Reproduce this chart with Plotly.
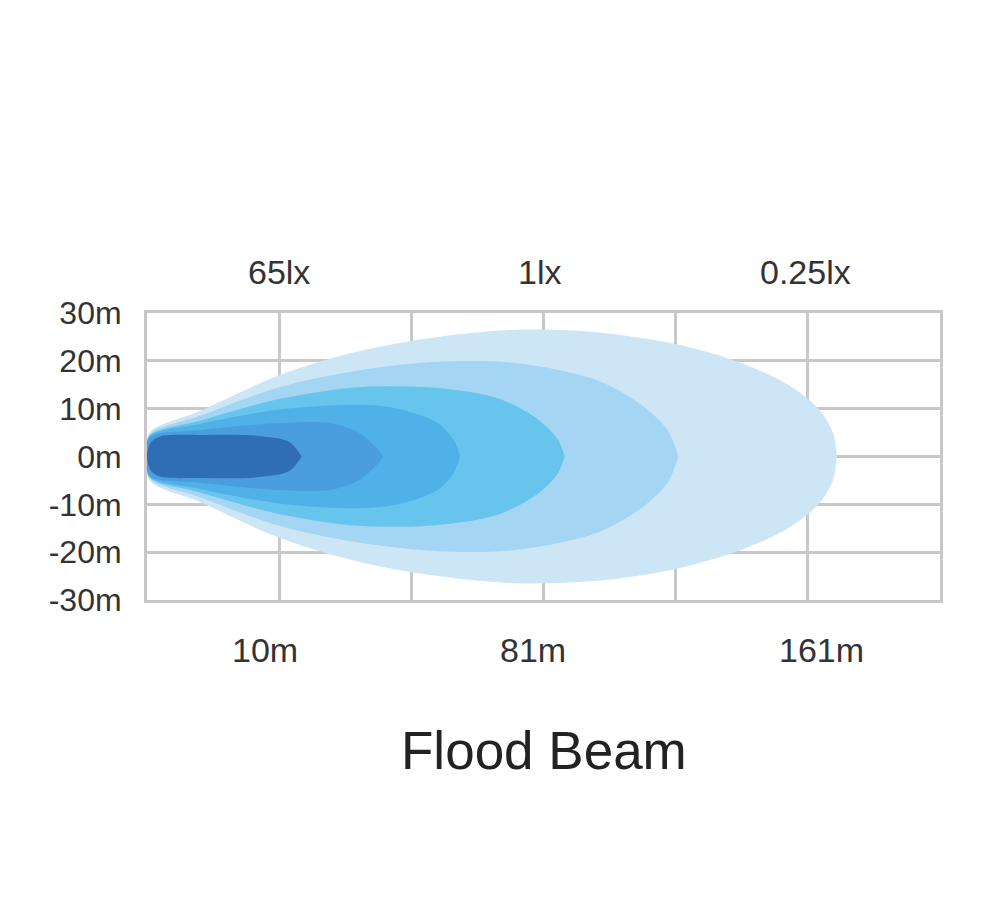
import plotly.graph_objects as go

# ---- data ----
# beam contour profiles: distance along beam (grid units, 0..6) and half-width (m)
l1_x = [0, 0.02, 0.4, 1.0, 1.6, 2.2, 2.8, 3.4, 4.0, 4.5, 4.85, 5.08, 5.19, 5.22]
l1_w = [0, 5.0, 9.5, 17.0, 22.0, 25.0, 26.5, 26.0, 23.5, 19.5, 15.0, 10.0, 5.0, 0]
l2_x = [0, 0.02, 0.4, 1.0, 1.6, 2.2, 2.8, 3.4, 3.73, 3.94, 4.02]
l2_w = [0, 4.6, 8.5, 14.5, 18.0, 19.8, 19.5, 16.0, 11.0, 5.5, 0]
l3_x = [0, 0.02, 0.4, 1.0, 1.6, 2.2, 2.67, 2.97, 3.11, 3.16]
l3_w = [0, 4.4, 7.5, 12.0, 14.5, 14.3, 12.0, 7.5, 3.5, 0]
l4_x = [0, 0.02, 0.4, 1.0, 1.6, 1.9, 2.2, 2.32, 2.37]
l4_w = [0, 4.2, 6.8, 9.8, 10.8, 10.0, 7.0, 3.5, 0]
l5_x = [0, 0.02, 0.4, 1.0, 1.38, 1.6, 1.73, 1.79]
l5_w = [0, 4.0, 5.5, 7.0, 7.0, 5.0, 2.0, 0]
l6_x = [0, 0.03, 0.1, 0.4, 0.85, 1.08, 1.17]
l6_w = [0, 3.0, 4.2, 4.5, 4.3, 3.0, 0]

layer_colors = ["#cde6f6", "#a4d5f2", "#67c4ec", "#50b0e8", "#4a9edd", "#2f6db5"]

y_ticks = [30, 20, 10, 0, -10, -20, -30]
y_tick_text = ["30m", "20m", "10m", "0m", "-10m", "-20m", "-30m"]
lux_labels = ["65lx", "1lx", "0.25lx"]
lux_pos = [1.0, 2.97, 4.98]
dist_labels = ["10m", "81m", "161m"]
dist_pos = [0.89, 2.92, 5.1]
title_text = "Flood Beam"

# ---- figure ----
fig = go.Figure()
profiles = [(l1_x, l1_w), (l2_x, l2_w), (l3_x, l3_w),
            (l4_x, l4_w), (l5_x, l5_w), (l6_x, l6_w)]
for (xs, ws), col in zip(profiles, layer_colors):
    px = list(xs) + list(reversed(xs))
    py = list(ws) + [-w for w in reversed(ws)]
    fig.add_trace(go.Scatter(
        x=px, y=py, mode="lines", fill="toself", fillcolor=col,
        line=dict(width=0, color=col, shape="spline", smoothing=0.9),
        hoverinfo="skip", showlegend=False))

font_family = "Liberation Sans, Arial, sans-serif"
txt_col = "#333333"

for lab, xp in zip(lux_labels, lux_pos):
    fig.add_annotation(x=xp, y=1, xref="x", yref="paper", text=lab,
                       showarrow=False, yanchor="middle", yshift=41,
                       font=dict(family=font_family, size=34, color=txt_col))
for lab, xp in zip(dist_labels, dist_pos):
    fig.add_annotation(x=xp, y=0, xref="x", yref="paper", text=lab,
                       showarrow=False, yanchor="middle", yshift=-50,
                       font=dict(family=font_family, size=34, color=txt_col))
fig.add_annotation(x=0.5, y=0, xref="paper", yref="paper", text=title_text,
                   showarrow=False, yanchor="middle", yshift=-150,
                   font=dict(family=font_family, size=53, color="#222222"))

grid_col = "#c8c8c8"
fig.update_xaxes(range=[0, 6], tickvals=[0, 1, 2, 3, 4, 5, 6], showticklabels=False,
                 showgrid=True, gridcolor=grid_col, gridwidth=3, zeroline=False,
                 showline=True, linecolor=grid_col, linewidth=3, mirror=True,
                 fixedrange=True)
fig.update_yaxes(range=[-30, 30], tickvals=y_ticks, ticktext=y_tick_text,
                 showgrid=True, gridcolor=grid_col, gridwidth=3, zeroline=False,
                 showline=True, linecolor=grid_col, linewidth=3, mirror=True,
                 ticks="", ticklabelstandoff=16,
                 tickfont=dict(family=font_family, size=32, color=txt_col),
                 fixedrange=True)

fig.update_layout(width=995, height=905,
                  margin=dict(l=139, r=63, t=305, b=313),
                  plot_bgcolor="white", paper_bgcolor="white",
                  showlegend=False)

fig.write_html("out.html")
